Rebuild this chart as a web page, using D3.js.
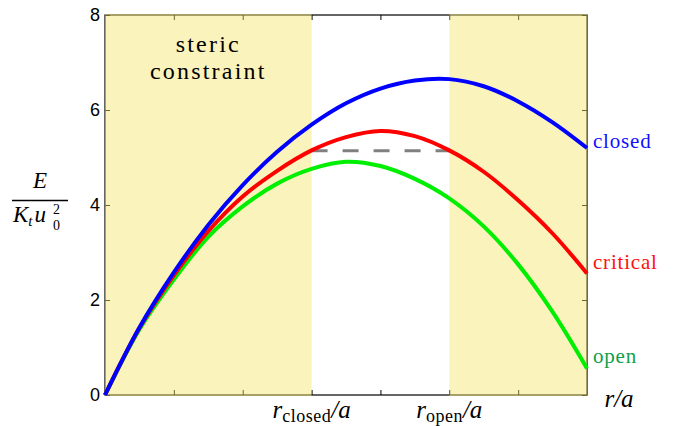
<!DOCTYPE html>
<html>
<head>
<meta charset="utf-8">
<script src="https://cdn.jsdelivr.net/npm/d3@7"></script>
<style>
  body { margin: 0; background: #fff; }
  svg { display: block; }
</style>
</head>
<body>
<script>
// Chart size and plot box
let width = 682;
let height = 426;
let plotLeft = 105, plotRight = 587, plotTop = 15, plotBottom = 395;

// r/a sample positions and energies
var rValues = [0, 0.5, 1, 1.5, 2, 2.5, 3, 3.5, 4, 4.5, 5, 5.5, 6, 6.5, 7];
var closedE = [0, 1.42, 2.58, 3.58, 4.42, 5.12, 5.69, 6.14, 6.45, 6.62, 6.65, 6.5, 6.18, 5.74, 5.2];
var criticalE = [0, 1.41, 2.52, 3.45, 4.18, 4.72, 5.15, 5.43, 5.56, 5.45, 5.15, 4.7, 4.1, 3.4, 2.56];
var openE = [0, 1.38, 2.43, 3.33, 3.97, 4.45, 4.76, 4.91, 4.82, 4.55, 4.14, 3.55, 2.75, 1.75, 0.56];

var seriesNames = ['closed', 'critical', 'open'];
var lineColors = ['#0000ff', '#ff0000', '#00ee00'];
var labelColors = ['#1010ff', '#ff1010', '#10a04a'];

// Shaded (sterically forbidden) ranges, and the dashed barrier level
var shadedRanges = [[0, 3], [5, 7]];
var rClosed = 3, rOpen = 5;
var barrierE = 5.14;

var yTicks = [0, 2, 4, 6, 8];
var xTicks = [1, 2, 3, 4, 5, 6];

var serif = "'Liberation Serif', 'Times New Roman', serif";
var sans = "'Liberation Sans', Arial, sans-serif";

var svg = d3.select('body')
            .append('svg')
            .attr('width', width)
            .attr('height', height);

var x = d3.scaleLinear().domain([0, 7]).range([plotLeft, plotRight]);
var y = d3.scaleLinear().domain([0, 8]).range([plotBottom, plotTop]);

// Box with inward ticks
svg.append('rect').attr('x', plotLeft).attr('y', plotTop)
   .attr('width', plotRight - plotLeft).attr('height', plotBottom - plotTop)
   .attr('fill', 'none').attr('stroke', '#000').attr('stroke-width', 1.2);

var leftAxis = svg.append('g').attr('transform', 'translate(' + plotLeft + ',0)')
  .call(d3.axisLeft(y).tickValues(yTicks).tickSizeInner(-5).tickSizeOuter(0).tickPadding(5));
leftAxis.select('.domain').remove();
leftAxis.selectAll('text').style('font-family', sans)
        .style('font-size', '18px').attr('fill', '#000');

var rightAxis = svg.append('g').attr('transform', 'translate(' + plotRight + ',0)')
  .call(d3.axisRight(y).tickValues(yTicks).tickSizeInner(-5).tickSizeOuter(0).tickFormat(''));
rightAxis.select('.domain').remove();

var bottomAxis = svg.append('g').attr('transform', 'translate(0,' + plotBottom + ')')
  .call(d3.axisBottom(x).tickValues(xTicks).tickSizeInner(-5).tickSizeOuter(0).tickFormat(''));
bottomAxis.select('.domain').remove();

var topAxis = svg.append('g').attr('transform', 'translate(0,' + plotTop + ')')
  .call(d3.axisTop(x).tickValues(xTicks).tickSizeInner(-5).tickSizeOuter(0).tickFormat(''));
topAxis.select('.domain').remove();

svg.selectAll('.tick line').attr('stroke', '#000').attr('stroke-width', 1);

// Yellow patches sit over the box, so the axis looks grey through them
svg.selectAll('rect.shade')
   .data(shadedRanges)
   .enter().append('rect')
   .attr('class', 'shade')
   .attr('x', d => x(d[0]))
   .attr('width', d => x(d[1]) - x(d[0]))
   .attr('y', y(8) - 1)
   .attr('height', y(0) - y(8) + 2)
   .attr('fill', '#f5e46a')
   .attr('fill-opacity', 0.45);

// Dashed barrier line between r_closed and r_open
svg.append('line')
   .attr('x1', x(rClosed)).attr('x2', x(rOpen))
   .attr('y1', y(barrierE)).attr('y2', y(barrierE))
   .attr('stroke', '#808080').attr('stroke-width', 3)
   .attr('stroke-dasharray', '16,15');

// Energy curves
var line = d3.line().x((d, i) => x(rValues[i])).y(d => y(d)).curve(d3.curveCatmullRom.alpha(0.5));
var allSeries = [closedE, criticalE, openE];

// draw open first so closed ends up on top
for (var i = allSeries.length - 1; i >= 0; i--) {
  svg.append('path')
     .datum(allSeries[i])
     .attr('d', line)
     .attr('fill', 'none')
     .attr('stroke', lineColors[i])
     .attr('stroke-width', 4);
}

// End labels
var labelOffsets = [0, -4, -5];
for (var i = 0; i < allSeries.length; i++) {
  var endValue = allSeries[i][allSeries[i].length - 1];
  svg.append('text')
     .attr('x', plotRight + 6)
     .attr('y', y(endValue) + labelOffsets[i])
     .style('font-family', serif).style('font-size', '21px')
     .attr('letter-spacing', 0.8)
     .attr('fill', labelColors[i])
     .text(seriesNames[i]);
}

// "steric constraint" note
var note = svg.append('text')
   .attr('text-anchor', 'middle')
   .style('font-family', serif).style('font-size', '24px')
   .attr('letter-spacing', 2.2)
   .attr('fill', '#000');
note.append('tspan').attr('x', x(1.5)).attr('y', 52).text('steric');
note.append('tspan').attr('x', x(1.5)).attr('y', 79).text('constraint');

// x labels: r_closed/a and r_open/a
function radiusLabel(xpos, sub) {
  var t = svg.append('text')
     .attr('x', xpos).attr('y', 418)
     .attr('text-anchor', 'middle')
     .style('font-family', serif).style('font-size', '25px').attr('fill', '#000');
  t.append('tspan').style('font-style', 'italic').text('r');
  t.append('tspan').style('font-size', '18px').attr('dy', 4).attr('letter-spacing', 0.5).text(sub);
  t.append('tspan').style('font-style', 'italic').attr('dy', -4).text('/a');
}
radiusLabel(x(rClosed), 'closed');
radiusLabel(x(rOpen), 'open');

svg.append('text')
   .attr('x', 619).attr('y', 407)
   .attr('text-anchor', 'middle')
   .style('font-family', serif).style('font-size', '25px')
   .style('font-style', 'italic').attr('fill', '#000')
   .text('r/a');

// y label: E / (K_t u_0^2)
svg.append('text')
   .attr('x', 40).attr('y', 188)
   .attr('text-anchor', 'middle')
   .style('font-family', serif).style('font-size', '23px')
   .style('font-style', 'italic').attr('fill', '#000')
   .text('E');

svg.append('line')
   .attr('x1', 12).attr('x2', 68).attr('y1', 200.5).attr('y2', 200.5)
   .attr('stroke', '#000').attr('stroke-width', 1.6);

var denom = svg.append('text')
   .attr('x', 13).attr('y', 222)
   .style('font-family', serif).style('font-size', '23px')
   .style('font-style', 'italic').attr('fill', '#000');
denom.append('tspan').text('K');
denom.append('tspan').style('font-size', '15px').attr('dy', 4).text('t');
denom.append('tspan').attr('dy', -4).attr('dx', 2).text('u');

svg.append('text')
   .attr('x', 53).attr('y', 230)
   .style('font-family', serif).style('font-size', '14px').attr('fill', '#000')
   .text('0');
svg.append('text')
   .attr('x', 53).attr('y', 214)
   .style('font-family', serif).style('font-size', '14px').attr('fill', '#000')
   .text('2');
</script>
</body>
</html>
